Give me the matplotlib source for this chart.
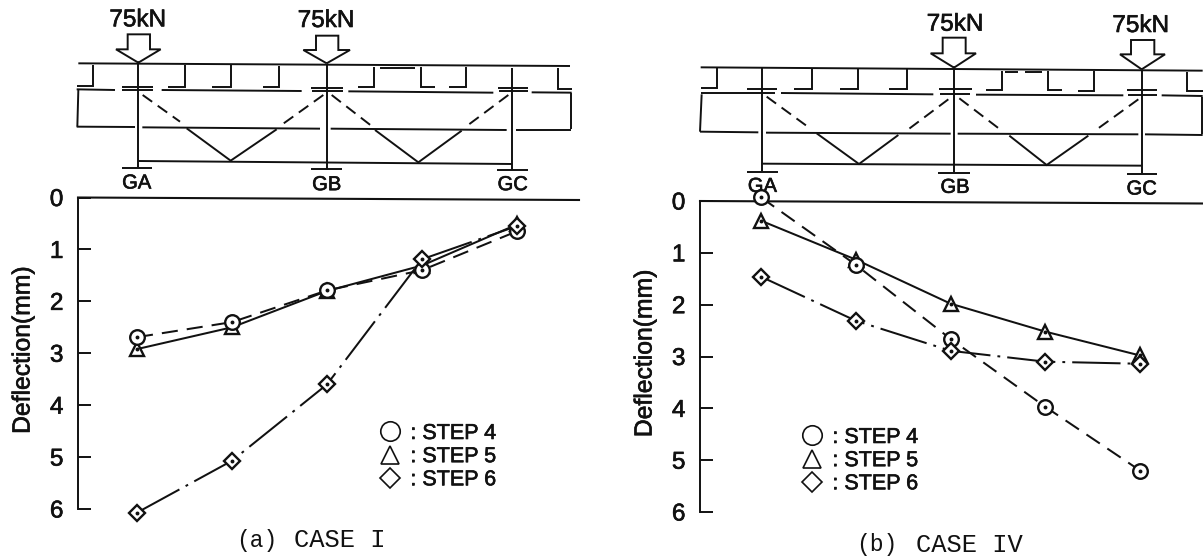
import matplotlib
matplotlib.use("Agg")
import matplotlib.pyplot as plt
import matplotlib.patheffects as pe
from matplotlib.lines import Line2D

plt.rcParams['font.family'] = ['Liberation Sans', 'DejaVu Sans']
W, H = 1203, 556
INK = '#111111'
BOLDEN = [pe.withStroke(linewidth=0.45, foreground=INK)]

# ---- data ----
gauge_pos = [0, 1, 2, 3, 4]
y_ticks = [0, 1, 2, 3, 4, 5, 6]
step_labels = [': STEP 4', ': STEP 5', ': STEP 6']
ylabel_text = 'Deflection(mm)'

case1_step4 = [2.69, 2.40, 1.79, 1.40, 0.65]
case1_step5 = [2.92, 2.50, 1.80, 1.31, 0.52]
case1_step6 = [6.07, 5.07, 3.60, 1.19, 0.55]

case4_step4 = [-0.07, 1.23, 2.66, 3.97, 5.20]
case4_step5 = [0.38, 1.13, 1.98, 2.52, 2.98]
case4_step6 = [1.46, 2.31, 2.89, 3.10, 3.14]

# ---- schematic geometry, in 3x crop coordinates of each panel ----
A_top = [[(55,190),(1530,198)]]
A_solid = [
    [(100,195),(100,258),(50,258)], [(375,195),(375,260),(325,260)],
    [(513,195),(513,260),(455,260)], [(657,197),(657,260),(610,260)],
    [(943,200),(943,262),(893,262)], [(1082,200),(1082,262),(1125,262)],
    [(1217,200),(1217,262),(1168,262)], [(1495,203),(1495,266),(1535,266)],
    [(960,205),(1065,205)],
    [(235,190),(235,500)], [(800,195),(800,508)], [(1357,205),(1357,510)],
    [(187,262),(278,262)], [(752,265),(848,265)], [(1315,265),(1403,265)],
    [(50,268),(165,270)], [(187,269),(280,269)], [(305,270),(725,273)],
    [(755,272),(848,272)], [(865,274),(1300,278)], [(1318,274),(1403,274)],
    [(1415,277),(1535,278)],
    [(55,270),(52,380)], [(1533,280),(1533,388)],
    [(50,380),(225,381)], [(247,382),(780,386)], [(812,386),(1340,390)], [(1368,390),(1533,390)],
    [(380,385),(512,482),(650,388)], [(945,390),(1075,487),(1205,392)],
    [(235,483),(1357,492)],
    [(187,503),(275,503)], [(752,507),(845,507)], [(1310,510),(1403,510)],
]
A_dashed = [[(248,285),(360,365)], [(790,285),(660,378)], [(815,285),(940,382)], [(1345,285),(1215,382)]]
A_arrows = [
    [(235,188),(168,148),(203,148),(203,103),(270,103),(270,148),(302,148),(235,188)],
    [(800,190),(730,150),(768,150),(768,107),(835,107),(835,150),(870,150),(800,190)],
]
A_load = [(233,61),(798,63)]
A_girder = [('GA',230,549),('GB',800,554),('GC',1358,554)]

B_top = [[(62,202),(1568,212)]]
B_solid = [
    [(110,205),(110,265),(62,265)], [(395,207),(395,268),(343,268)],
    [(535,207),(535,268),(480,268)], [(680,208),(680,268),(628,268)],
    [(965,212),(965,270),(918,270)], [(1103,212),(1103,270),(1145,270)],
    [(1243,212),(1243,272),(1195,272)], [(1522,215),(1522,273),(1568,273)],
    [(975,215),(1015,215)], [(1035,215),(1085,215)],
    [(245,205),(245,513)], [(822,205),(822,517)], [(1385,210),(1385,520)],
    [(200,266),(290,266)], [(778,268),(875,268)], [(1342,271),(1430,271)],
    [(62,280),(285,280)], [(303,279),(760,283)], [(780,283),(870,283)],
    [(888,284),(1330,286)], [(1345,286),(1430,286)], [(1445,286),(1568,288)],
    [(65,283),(60,395)], [(1565,290),(1565,403)],
    [(60,395),(235,397)], [(258,398),(812,401)], [(833,401),(1375,403)], [(1395,403),(1568,405)],
    [(410,400),(537,492),(655,405)], [(988,407),(1100,495),(1225,407)],
    [(245,491),(1385,497)],
    [(200,515),(293,515)], [(775,518),(870,518)], [(1340,521),(1430,521)],
]
B_dashed = [[(260,290),(390,385)], [(805,298),(685,388)], [(838,295),(960,388)], [(1375,298),(1245,392)]]
B_arrows = [
    [(822,203),(752,160),(788,160),(788,113),(857,113),(857,160),(888,160),(822,203)],
    [(1385,208),(1320,163),(1353,163),(1353,120),(1423,120),(1423,163),(1455,163),(1385,208)],
]
B_load = [(825,74),(1382,78)]
B_girder = [('GA',247,559),('GB',825,562),('GC',1385,567)]

LONG_DASH = (0, (8, 4.5))
CHAIN = (0, (24, 3.5, 1.4, 3.5))
MARKERS = {'o': 10.5, '^': 10.5, 'D': 8.0}

fig = plt.figure(figsize=(W/100, H/100), dpi=100, facecolor='white')
bg = fig.add_axes([0, 0, 1, 1], zorder=0)
bg.set_xlim(0, W); bg.set_ylim(H, 0); bg.axis('off')


def draw_schematic(x0, top, solid, dashed, arrows, loads, girders):
    def conv(path):
        return [x0 + p[0]/3 for p in path], [p[1]/3 for p in path]
    for path in top + solid + arrows:
        xs, ys = conv(path)
        bg.plot(xs, ys, color=INK, lw=1.4, solid_joinstyle='miter', solid_capstyle='butt')
    for path in dashed:
        xs, ys = conv(path)
        bg.plot(xs, ys, color=INK, lw=1.4, linestyle=(0, (6, 3.5)))
    for (zx, zy) in loads:
        bg.text(x0 + zx/3, zy/3, '75kN', fontsize=17.5, color=INK, ha='center', va='center',
                path_effects=BOLDEN)
    for (name, zx, zy) in girders:
        bg.text(x0 + zx/3, zy/3, name, fontsize=14.5, color=INK, ha='center', va='center',
                path_effects=BOLDEN)


def draw_chart(rect_px, x_first, x_step, s4, s5, s6, tag, tag_xy, case, case_xy, top_px, legend_xy):
    left, right, top, bottom = rect_px
    ax = fig.add_axes([left/W, 1 - bottom/H, (right-left)/W, (bottom-top)/H], zorder=1)
    ax.patch.set_visible(False)
    ax.set_xlim((left-x_first)/x_step, (right-x_first)/x_step)
    ax.set_ylim(6, 0)
    for side in ('top', 'right', 'bottom'):
        ax.spines[side].set_visible(False)
    ax.spines['left'].set_linewidth(1.4)
    ax.spines['left'].set_color(INK)
    ax.set_xticks([])
    ax.set_yticks(y_ticks)
    ax.tick_params(axis='y', direction='in', length=9.5, width=1.4, color=INK, pad=10.5,
                   labelsize=17.5, labelcolor=INK)
    for lab in ax.get_yticklabels():
        lab.set_path_effects(BOLDEN)
    ylab = ax.set_ylabel(ylabel_text, fontsize=17.8, color=INK, labelpad=11, y=0.51)
    ylab.set_path_effects(BOLDEN)
    bg.plot(top_px[0], top_px[1], color=INK, lw=1.5)

    styles = [(s4, 'o', LONG_DASH, 4), (s5, '^', '-', 3), (s6, 'D', CHAIN, 5)]
    for vals, m, ls, z in styles:
        ax.plot(gauge_pos, vals, color=INK, lw=1.45, linestyle=ls, marker=m,
                markersize=MARKERS[m], markerfacecolor='white', markeredgecolor=INK,
                markeredgewidth=1.7, clip_on=False, zorder=z)
        ax.plot(gauge_pos, vals, linestyle='none', marker='o', markersize=1.8,
                color=INK, clip_on=False, zorder=z + 0.1)

    handles = [Line2D([], [], linestyle='none', marker=m, markersize=ms, markerfacecolor='none',
                      markeredgecolor=INK, markeredgewidth=1.2)
               for m, ms in (('o', 14), ('^', 13), ('D', 10.5))]
    leg = ax.legend(handles, step_labels, loc='upper left', frameon=False, fontsize=15.5,
                    bbox_to_anchor=legend_xy, bbox_transform=bg.transData,
                    borderpad=0, borderaxespad=0, labelspacing=0.1, handlelength=1.25,
                    handletextpad=0.3, labelcolor=INK)
    for t in leg.get_texts():
        t.set_path_effects(BOLDEN)
    bg.text(tag_xy[0], tag_xy[1], tag, family='Liberation Mono', fontsize=16.5, color=INK,
            ha='left', va='center')
    bg.text(case_xy[0], case_xy[1], case, family='Liberation Mono', fontsize=18.4, color=INK,
            ha='left', va='center')
    return ax


draw_schematic(60, A_top, A_solid, A_dashed, A_arrows, A_load, A_girder)
draw_schematic(680, B_top, B_solid, B_dashed, B_arrows, B_load, B_girder)

draw_chart((78, 579, 197.5, 509), 137, 95, case1_step4, case1_step5, case1_step6,
           '(a)', (236, 540), 'CASE I', (294, 540), ([78, 579], [197.5, 200]), (377, 423))
draw_chart((700, 1203, 201, 512), 761, 94.75, case4_step4, case4_step5, case4_step6,
           '(b)', (856, 545), 'CASE IV', (916, 545), ([700, 1203], [201, 203.5]), (799, 427))

fig.savefig('out.png', dpi=100, facecolor='white')
